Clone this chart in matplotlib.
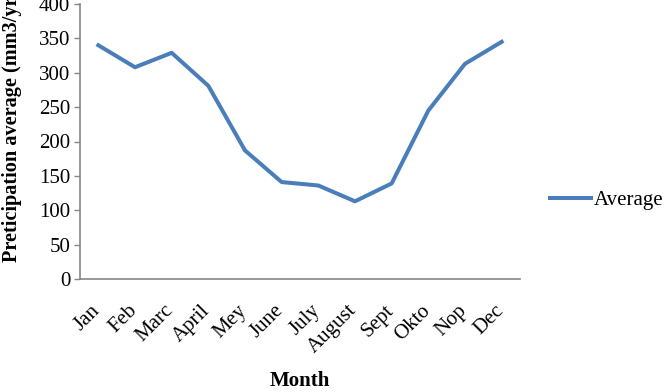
import matplotlib
matplotlib.use("Agg")
import matplotlib.pyplot as plt
import matplotlib.transforms as mtransforms

months = ["Jan", "Feb", "Marc", "April", "Mey", "June", "July", "August", "Sept", "Okto", "Nop", "Dec"]
average = [340, 308, 329, 281, 187, 141, 136, 113, 139, 245, 313, 345]
yticks = [0, 50, 100, 150, 200, 250, 300, 350, 400]

plt.rcParams['font.family'] = ['Liberation Serif', 'DejaVu Serif']

W, H = 668, 392
FS = 15
fig = plt.figure(figsize=(W / 100, H / 100), dpi=100)
ax = fig.add_axes([80 / W, 1 - 279 / H, 440 / W, 275 / H])

x = list(range(len(months)))
ax.plot(x, average, color='#4a7ebb', lw=2.9, solid_joinstyle='round', label='Average')

ax.set_xlim(-0.5, len(months) - 0.5)
ax.set_ylim(0, 400)
ax.set_yticks(yticks)
ax.set_xticks(x)
ax.set_xticklabels(months, rotation=45, ha='right', fontsize=FS)
ax.tick_params(axis='x', length=0, pad=16)
offset = mtransforms.ScaledTranslation(6 / 100, 0, fig.dpi_scale_trans)
for lab in ax.get_xticklabels():
    lab.set_transform(lab.get_transform() + offset)
ax.tick_params(axis='y', length=4, width=1, color='#868686', labelsize=FS, pad=3)
for s in ['top', 'right']:
    ax.spines[s].set_visible(False)
for s in ['left', 'bottom']:
    ax.spines[s].set_color('#868686')
    ax.spines[s].set_linewidth(1.2)

fig.text(300 / W, 1 - 381 / H, 'Month', ha='center', va='center', fontsize=FS, fontweight='bold')
fig.text(12 / W, 1 - 262 / H, 'Preticipation average (mm3/yr)', rotation=90,
         ha='center', va='bottom', fontsize=14.6, fontweight='bold')

leg = ax.legend(loc='center left', bbox_to_anchor=(550 / W, 1 - 200 / H),
                bbox_transform=fig.transFigure, frameon=False, fontsize=FS,
                borderpad=0, borderaxespad=0, handlelength=41 / (FS * 100 / 72), handletextpad=0.15)

fig.savefig('out.png', dpi=100)
